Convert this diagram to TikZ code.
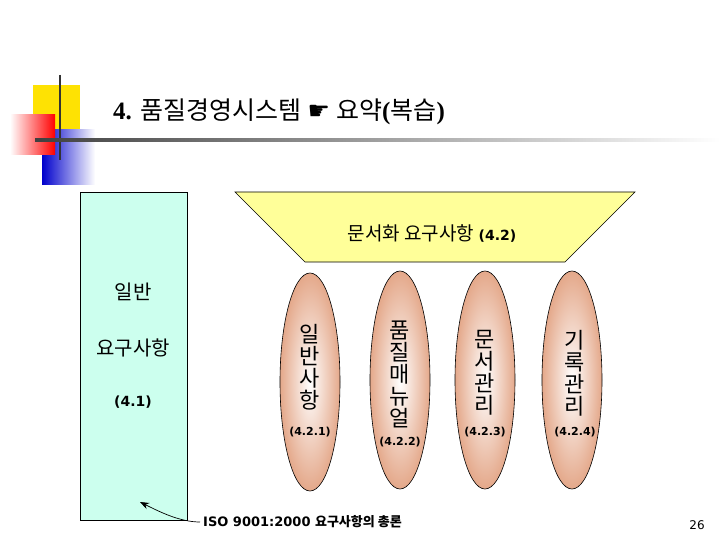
\documentclass[tikz,border=0pt]{standalone}
\usepackage{fontspec}
\setmainfont{Liberation Serif}
\newfontfamily\kr{Noto Sans CJK KR}
\newfontfamily\dv{DejaVu Sans}
\usetikzlibrary{arrows.meta,shapes.geometric}
\definecolor{salmon}{RGB}{228,168,138}
\tikzset{oval/.style={ellipse,draw=black,line width=0.6pt,inner color=white,outer color=salmon,minimum width=60pt,minimum height=218pt},
lab/.style={font=\kr\fontsize{22}{25}\selectfont,align=center,inner sep=0pt},
num/.style={font=\dv\bfseries\fontsize{11}{13}\selectfont,inner sep=0pt}}
\begin{document}
\begin{tikzpicture}[x=1pt,y=-1pt]
\useasboundingbox (0,0) rectangle (720,540);
\fill[white] (0,0) rectangle (720,540);
% decoration
\fill[yellow!85!orange] (33,85) rectangle (80,130);
\shade[left color=blue!80!black,right color=white] (42,130) rectangle (95,185);
\shade[left color=white,right color=red] (10,115) rectangle (55,155);
\draw[line width=1.5pt,black!80] (60,75) -- (60,160);
\shade[left color=black!75,right color=white] (35,139) rectangle (720,142);
\node[anchor=west,inner sep=0pt] (title) at (113,112) {\fontsize{25}{28}\selectfont\textbf{4.} {\kr 품질경영시스템} {\dv ☛} {\kr 요약}\textbf{(}{\kr 복습}\textbf{)}};
% green box
\node[draw=black,fill={rgb,255:red,204;green,255;blue,238},minimum width=107pt,minimum height=328pt,anchor=north west,inner sep=0pt] (gbox) at (80,192) {};
\node[lab,font=\kr\fontsize{20}{24}\selectfont] (g1) at (133,292) {일반};
\node[lab,font=\kr\fontsize{20}{24}\selectfont] (g2) at (133,348) {요구사항};
\node[num,font=\dv\bfseries\fontsize{14}{16}\selectfont] (g3) at (133,402) {(4.1)};
% trapezoid
\draw[fill={rgb,255:red,255;green,255;blue,153},line width=0.6pt] (235,192) -- (635,192) -- (565,262) -- (305,262) -- cycle;
\node[inner sep=0pt] (doc) at (432,233) {\kr\fontsize{19}{22}\selectfont 문서화 요구사항 {\dv\bfseries\fontsize{14}{16}\selectfont (4.2)}};
% ovals
\node[oval] (o1) at (310,382) {};
\node[oval] (o2) at (400,380) {};
\node[oval] (o3) at (485,380) {};
\node[oval] (o4) at (572,380) {};
\node[lab] (t1) at (310,367) {일\\[-3pt]반\\[-3pt]사\\[-3pt]항};
\node[num] (n1) at (310,432) {(4.2.1)};
\node[lab] (t2) at (400,374) {품\\[-3pt]질\\[-3pt]매\\[-3pt]뉴\\[-3pt]얼};
\node[num] (n2) at (400,442) {(4.2.2)};
\node[lab] (t3) at (485,373) {문\\[-3pt]서\\[-3pt]관\\[-3pt]리};
\node[num] (n3) at (485,432) {(4.2.3)};
\node[lab] (t4) at (575,373) {기\\[-3pt]록\\[-3pt]관\\[-3pt]리};
\node[num] (n4) at (575,432) {(4.2.4)};
% bottom
\node[anchor=west,inner sep=0pt] (iso) at (203,522) {\dv\bfseries\fontsize{13}{15}\selectfont ISO 9001:2000 {\kr 요구사항의 총론}};
\coordinate (tip) at (140,502);
\draw[-{Stealth[length=9pt]},line width=0.7pt] ([xshift=-3pt]iso.west) .. controls (180,522) and (160,512) .. (tip);
\node (pg) at (697,525) {\dv\fontsize{12}{14}\selectfont 26};
\end{tikzpicture}
\end{document}
